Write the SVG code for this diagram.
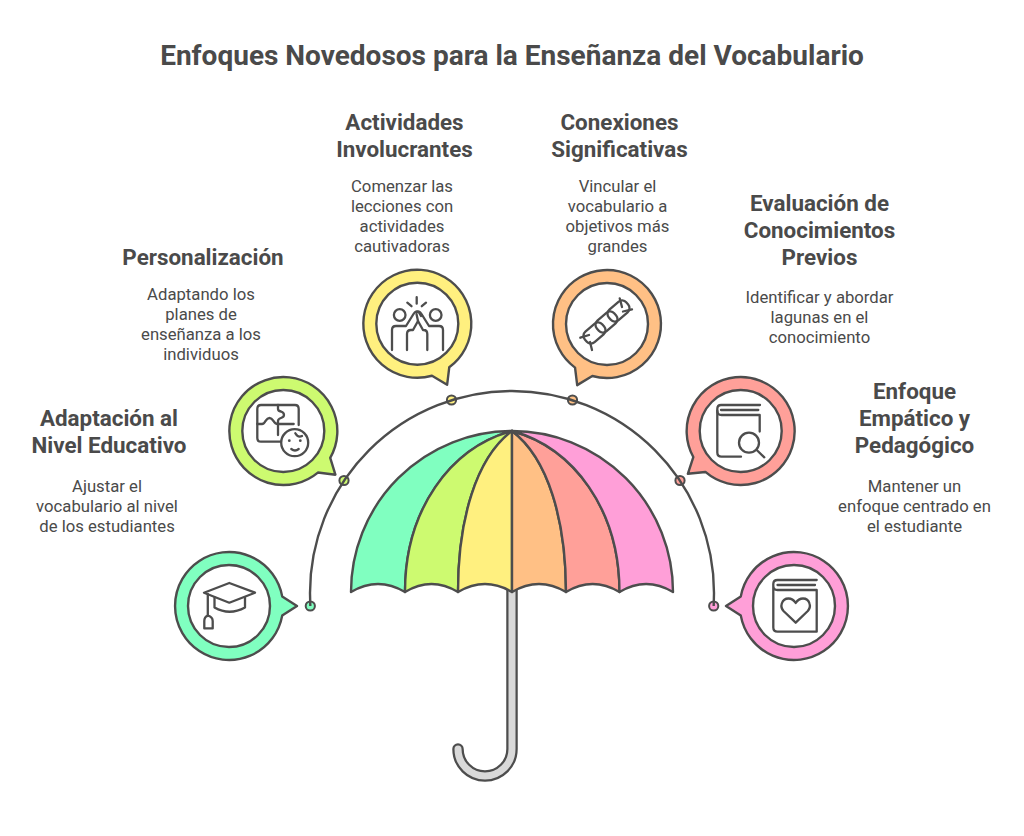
<svg xmlns="http://www.w3.org/2000/svg" width="1024" height="836" viewBox="0 0 1024 836">
<style>
text{font-family:Roboto,"Liberation Sans",sans-serif;text-anchor:middle;fill:#4a4a4a}
.title{font-size:28px;font-weight:700}
.h{font-size:22.4px;font-weight:700}
.b{font-size:16.7px;font-weight:400}
.s{stroke:#4d4d4d;stroke-width:2.4;stroke-linejoin:round}
.i{fill:none;stroke:#4d4d4d;stroke-width:2.3;stroke-linecap:round;stroke-linejoin:round}
.w{fill:#fff;stroke:#4d4d4d;stroke-width:2.4}
.c1{fill:#80ffc0}.c2{fill:#cdfa70}.c3{fill:#fff07f}.c4{fill:#ffc085}.c5{fill:#ffa099}.c6{fill:#ff9fd8}
</style>
<defs>
<path id="bubble" d="M53.2-9.6L68 0L53.2 9.6A54 54 0 1 1 53.2-9.6Z"/>
<rect id="link" x="-11.5" y="-7" width="23" height="14" rx="5.5" transform="rotate(-41)"/>
</defs>
<rect width="1024" height="836" fill="#fff"/>
<text class="title" x="512" y="65">Enfoques Novedosos para la Enseñanza del Vocabulario</text>

<g id="connectors">
<g class="s" style="stroke-width:2">
<circle class="c1" cx="310.3" cy="606" r="4.6"/>
<circle class="c2" cx="344" cy="480.5" r="4.6"/>
<circle class="c3" cx="451.5" cy="400" r="4.6"/>
<circle class="c4" cx="572.5" cy="400" r="4.6"/>
<circle class="c5" cx="680" cy="480.5" r="4.6"/>
<circle class="c6" cx="713.7" cy="606" r="4.6"/>
</g>
<path d="M310.3 606L310 593A202 202 0 0 1 714 593L713.7 606" fill="none" stroke="#4d4d4d" stroke-width="2.4"/>
</g>

<g id="umbrella">
<path d="M512 590V749A27 27 0 0 1 458 749" fill="none" stroke="#4d4d4d" stroke-width="11.5" stroke-linecap="round"/>
<path d="M512 590V749A27 27 0 0 1 458 749" fill="none" stroke="#d9d9d9" stroke-width="7" stroke-linecap="round"/>
<path class="s c1" d="M512 431A161 161 0 0 0 351 592Q378 576 405 592C405 510 450 448 512 431Z"/>
<path class="s c2" d="M512 431C450 448 405 510 405 592Q431.5 576 458 592C458 520 476 458 512 431Z"/>
<path class="s c3" d="M512 431C476 458 458 520 458 592Q485 576 512 592Z"/>
<path class="s c4" d="M512 431C548 458 566 520 566 592Q539 576 512 592Z"/>
<path class="s c5" d="M512 431C574 448 619.5 510 619.5 592Q592.500 576 566 592C566 520 548 458 512 431Z"/>
<path class="s c6" d="M512 431A161 161 0 0 1 673 592Q646 576 619.5 592C619.5 510 574 448 512 431Z"/>
</g>

<g id="node-adaptacion">
<use href="#bubble" class="s c1" transform="translate(229 606)"/>
<circle class="w" cx="229" cy="606" r="41"/>
<path class="i" d="M229.300 583L255 592.700L229.300 602.700L204 592.700Z"/>
<path class="i" d="M214.500 597.500V607.500Q229.500 616 245 607.500V597.500"/>
<path class="i" d="M207.800 594V616"/>
<path class="i" d="M207.800 615.500Q204.300 617 204.300 621V628.400H212.700V621Q212.700 617 207.800 615.500Z"/>
<text class="h" x="109" y="426">Adaptación al</text>
<text class="h" x="109" y="453">Nivel Educativo</text>
<text class="b" x="107" y="492">Ajustar el</text>
<text class="b" x="107" y="512">vocabulario al nivel</text>
<text class="b" x="107" y="532">de los estudiantes</text>
</g>

<g id="node-personalizacion">
<use href="#bubble" class="s c2" transform="translate(283.300 431) rotate(40)"/>
<circle class="w" cx="283.300" cy="431" r="41"/>
<path class="i" d="M298.700 425V409Q298.700 405 295 405H261Q257.300 405 257.300 409V438Q257.300 441.700 261 441.700H280.500"/>
<path class="i" d="M257.300 424H262Q264 424 265.500 421Q267.500 418 269.500 418Q271.500 418 273.500 421Q275 424 278 424H293.700"/>
<path class="i" d="M278 405V409Q278 411 281 411.500Q284 412.500 284 415Q284 417 281 418Q278 419 278 421V435"/>
<circle class="i" cx="294.700" cy="442.700" r="13.500"/>
<path class="i" d="M291.300 449Q295 452 298.700 449"/>
<path class="i" d="M295.300 433.300Q298 438 302 436"/>
<circle cx="289.300" cy="440.700" r="1.400" fill="#4d4d4d"/>
<circle cx="300.300" cy="440.700" r="1.400" fill="#4d4d4d"/>
<text class="h" x="203" y="265">Personalización</text>
<text class="b" x="201" y="300">Adaptando los</text>
<text class="b" x="201" y="320">planes de</text>
<text class="b" x="201" y="340">enseñanza a los</text>
<text class="b" x="201" y="360">individuos</text>
</g>

<g id="node-actividades">
<use href="#bubble" class="s c3" transform="translate(417.300 323.700) rotate(64)"/>
<circle class="w" cx="417.300" cy="323.700" r="41"/>
<circle class="i" cx="399.700" cy="315" r="5.800"/>
<circle class="i" cx="435.700" cy="315" r="5.800"/>
<path class="i" d="M392 350V330Q392 326 396 326H406L413.500 314Q416 310 419 312.500L421 316"/>
<path class="i" d="M443 350V330Q443 326 439 326H429L421.500 314Q419 310 416 312"/>
<path class="i" d="M407 350V334Q407 330 411 330H413L418 321L423 330H423.500Q427.300 330 427.300 334V350"/>
<path class="i" d="M418 321L416.500 314"/>
<path class="i" d="M416.700 297.200V303.700M407.300 302.700L411.500 306.200M426 302.700L421.800 306.200"/>
<text class="h" x="404.500" y="130">Actividades</text>
<text class="h" x="404.500" y="157">Involucrantes</text>
<text class="b" x="402" y="192">Comenzar las</text>
<text class="b" x="402" y="212">lecciones con</text>
<text class="b" x="402" y="232">actividades</text>
<text class="b" x="402" y="252">cautivadoras</text>
</g>

<g id="node-conexiones">
<use href="#bubble" class="s c4" transform="translate(607 324) rotate(116)"/>
<circle class="w" cx="607" cy="324" r="41"/>
<g class="i">
<path d="M580.300 337.700L589 335"/>
<path d="M632 309.300L623 311.500"/>
<path d="M592 350L590 342"/>
<path d="M619.700 298.300L622 307"/>
<use href="#link" transform="translate(594.500 333)"/>
<use href="#link" transform="translate(606.500 322)"/>
<use href="#link" transform="translate(618.500 311)"/>
</g>
<text class="h" x="619.500" y="130">Conexiones</text>
<text class="h" x="619.500" y="157">Significativas</text>
<text class="b" x="617.500" y="192">Vincular el</text>
<text class="b" x="617.500" y="212">vocabulario a</text>
<text class="b" x="617.500" y="232">objetivos más</text>
<text class="b" x="617.500" y="252">grandes</text>
</g>

<g id="node-evaluacion">
<use href="#bubble" class="s c5" transform="translate(740.700 431) rotate(141)"/>
<circle class="w" cx="740.700" cy="431" r="41"/>
<path class="i" d="M760 405H721Q717.300 405 717.300 409V452.500Q717.300 456.700 721.500 456.700H741"/>
<path class="i" d="M721 410H758.300"/>
<path class="i" d="M717.300 411Q717.300 415 721.500 415H759.700V431.500"/>
<circle class="i" cx="749" cy="442.700" r="10"/>
<path class="i" d="M756.700 450L764.300 457.300"/>
<text class="h" x="819.500" y="211">Evaluación de</text>
<text class="h" x="819.500" y="238">Conocimientos</text>
<text class="h" x="819.500" y="265">Previos</text>
<text class="b" x="819.500" y="303">Identificar y abordar</text>
<text class="b" x="819.500" y="323">lagunas en el</text>
<text class="b" x="819.500" y="343">conocimiento</text>
</g>

<g id="node-empatico">
<use href="#bubble" class="s c6" transform="translate(794 606) rotate(180)"/>
<circle class="w" cx="794" cy="606" r="41"/>
<path class="i" d="M816.700 580H777.500Q773.300 580 773.300 584V627.500Q773.300 631.700 777.500 631.700H816.700V590H777.500Q773.300 590 773.300 586"/>
<path class="i" d="M777.500 585H815"/>
<path class="i" d="M795.700 622.700L783.500 611Q780.500 607.500 781.800 603.500Q783.500 598.500 788.500 598.500Q792.800 598.500 795.700 603Q798.600 598.500 803 598.500Q808 598.500 809.500 603.500Q810.800 607.500 807.800 611Z"/>
<text class="h" x="914.500" y="399">Enfoque</text>
<text class="h" x="914.500" y="426">Empático y</text>
<text class="h" x="914.500" y="453">Pedagógico</text>
<text class="b" x="914.500" y="492">Mantener un</text>
<text class="b" x="914.500" y="512">enfoque centrado en</text>
<text class="b" x="914.500" y="532">el estudiante</text>
</g>
</svg>
